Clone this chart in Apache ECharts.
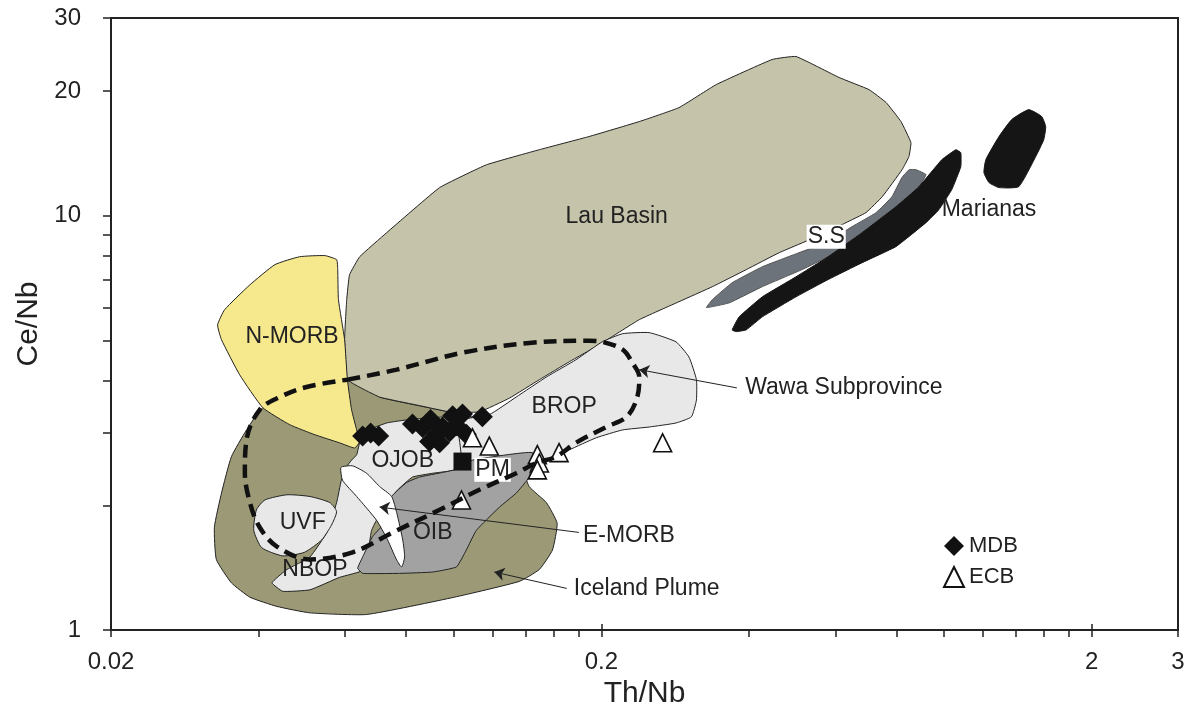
<!DOCTYPE html>
<html>
<head>
<meta charset="utf-8">
<script src="https://cdn.jsdelivr.net/npm/echarts@6/dist/echarts.min.js"></script>
<style>
  html, body { margin: 0; padding: 0; background: #fff; }
  #chart { width: 1197px; height: 719px; }
</style>
</head>
<body>
<div id="chart"></div>
<script>
// axis ticks / labels
const xTickLabels = [0.02, 0.2, 2, 3];
const xTicks = [0.02, 0.04, 0.06, 0.08, 0.1, 0.12, 0.14, 0.16, 0.18, 0.2, 0.4, 0.6, 0.8, 1, 1.2, 1.4, 1.6, 1.8, 2, 3];
const xMajorTicks = [0.02, 0.2, 2];
const yTickLabels = [1, 10, 20, 30];
const yTicks = [1, 2, 3, 4, 5, 6, 7, 8, 9, 10, 20, 30];

// fields, [Th/Nb, Ce/Nb]
const icelandPlume = [[0.0408, 3.44], [0.0378, 3.04], [0.0352, 2.62], [0.0336, 2.14], [0.0325, 1.77], [0.0328, 1.48], [0.0352, 1.30], [0.0384, 1.20], [0.0436, 1.14], [0.0509, 1.10], [0.0664, 1.09], [0.1003, 1.20], [0.136, 1.31], [0.1495, 1.40], [0.159, 1.56], [0.1625, 1.81], [0.1545, 2.03], [0.1425, 2.22], [0.136, 2.57], [0.1128, 3.22], [0.0981, 3.36], [0.0706, 3.65], [0.0607, 4.02], [0.0533, 3.80]];
const lauBasin = [[0.0607, 4.02], [0.0599, 5.02], [0.0605, 6.27], [0.0613, 7.20], [0.0643, 7.96], [0.073, 9.10], [0.0936, 11.69], [0.1166, 13.27], [0.1495, 14.43], [0.1886, 15.52], [0.239, 16.87], [0.288, 18.23], [0.343, 20.72], [0.446, 23.82], [0.499, 24.22], [0.611, 21.55], [0.703, 20.15], [0.762, 18.75], [0.817, 16.87], [0.856, 15.01], [0.848, 13.89], [0.821, 12.91], [0.748, 11.11], [0.693, 10.17], [0.631, 9.62], [0.575, 9.10], [0.461, 8.14], [0.395, 7.41], [0.337, 6.74], [0.288, 6.20], [0.239, 5.61], [0.198, 4.88], [0.172, 4.44], [0.1495, 4.02], [0.130, 3.63], [0.1128, 3.36], [0.0981, 3.36], [0.0852, 3.48], [0.0706, 3.65]];
const nMorb = [[0.0485, 7.96], [0.0546, 8.01], [0.0577, 7.83], [0.058, 7.41], [0.0582, 6.27], [0.0599, 5.02], [0.0607, 4.02], [0.0619, 3.40], [0.0634, 3.04], [0.0643, 2.85], [0.0628, 2.75], [0.0585, 2.83], [0.0521, 2.96], [0.0463, 3.13], [0.0408, 3.44], [0.0366, 4.13], [0.0336, 5.02], [0.033, 5.45], [0.0341, 5.93], [0.0384, 6.81], [0.0432, 7.62]];
const brop = [[0.1182, 3.31], [0.1341, 3.65], [0.1545, 4.08], [0.1775, 4.49], [0.2008, 4.96], [0.2211, 5.19], [0.2505, 5.22], [0.284, 4.96], [0.3018, 4.56], [0.3126, 4.02], [0.3126, 3.59], [0.3053, 3.27], [0.284, 3.16], [0.2505, 3.09], [0.2211, 3.04], [0.1952, 2.91], [0.1719, 2.72], [0.1545, 2.57], [0.1447, 2.57], [0.124, 2.435], [0.1076, 2.37], [0.1003, 2.435], [0.0981, 2.88], [0.1051, 3.22]];
const ojobNbop = [[0.0634, 2.65], [0.0652, 2.99], [0.073, 3.16], [0.0813, 3.22], [0.1003, 3.25], [0.1037, 2.46], [0.0906, 2.39], [0.0824, 2.34], [0.0769, 2.18], [0.0723, 2.00], [0.068, 1.74], [0.0658, 1.40], [0.0585, 1.34], [0.0509, 1.25], [0.0448, 1.24], [0.0426, 1.30], [0.0457, 1.40], [0.0509, 1.50], [0.0551, 1.72], [0.0577, 2.03], [0.059, 2.30], [0.0605, 2.48], [0.0619, 2.57]];
const uvf = [[0.0396, 1.95], [0.0412, 2.06], [0.0457, 2.12], [0.0509, 2.10], [0.0559, 2.03], [0.0577, 1.93], [0.0563, 1.79], [0.0538, 1.65], [0.0496, 1.54], [0.0448, 1.51], [0.0406, 1.58], [0.0391, 1.74]];
const oib = [[0.0747, 2.10], [0.0802, 2.27], [0.0852, 2.34], [0.1003, 2.435], [0.1092, 2.57], [0.1447, 2.68], [0.1425, 2.34], [0.1341, 2.14], [0.124, 1.98], [0.1112, 1.74], [0.1061, 1.56], [0.1013, 1.42], [0.0906, 1.38], [0.0776, 1.37], [0.0652, 1.37], [0.0637, 1.41], [0.0652, 1.50], [0.0683, 1.68], [0.073, 1.84]];
const eMorb = [[0.0593, 2.48], [0.0622, 2.49], [0.0664, 2.39], [0.0706, 2.22], [0.0747, 2.10], [0.0765, 1.92], [0.0787, 1.65], [0.0794, 1.50], [0.0783, 1.42], [0.0765, 1.476], [0.0733, 1.65], [0.0696, 1.84], [0.0634, 2.10], [0.0593, 2.30], [0.0588, 2.46]];
const ss = [[0.3276, 6.00], [0.3368, 6.27], [0.3697, 6.89], [0.426, 7.53], [0.506, 8.14], [0.5746, 8.61], [0.6493, 9.41], [0.7267, 10.17], [0.7829, 11.11], [0.8205, 12.36], [0.8483, 12.91], [0.8766, 12.91], [0.9187, 12.56], [0.8684, 11.24], [0.737, 9.25], [0.5913, 8.05], [0.5132, 7.41], [0.426, 6.74], [0.3647, 6.16]];
const marianasBand = [[0.3697, 5.30], [0.382, 5.70], [0.426, 6.37], [0.4989, 7.12], [0.58, 7.96], [0.6805, 9.10], [0.7977, 10.51], [0.889, 11.75], [0.99, 13.66], [1.057, 14.43], [1.082, 14.19], [1.082, 13.13], [1.037, 11.56], [0.976, 10.34], [0.9187, 9.62], [0.7977, 8.42], [0.6805, 7.70], [0.58, 7.01], [0.4989, 6.37], [0.426, 5.70], [0.3948, 5.30], [0.3767, 5.25]];
const marianasBlob = [[1.488, 18.03], [1.582, 17.35], [1.612, 16.40], [1.597, 15.26], [1.538, 13.89], [1.42, 11.75], [1.294, 11.69], [1.235, 12.02], [1.206, 12.70], [1.217, 13.66], [1.294, 15.52], [1.374, 17.06]];
const wawa = [[0.0607, 4.02], [0.0765, 4.25], [0.1042, 4.67], [0.1425, 4.93], [0.1886, 4.99], [0.2008, 4.96], [0.2211, 4.75], [0.2313, 4.42], [0.239, 4.08], [0.2368, 3.65], [0.2253, 3.27], [0.2046, 3.09], [0.1775, 2.83], [0.1617, 2.62], [0.1474, 2.53], [0.1341, 2.39], [0.1128, 2.18], [0.0936, 1.95], [0.0751, 1.72], [0.0622, 1.54], [0.0509, 1.48], [0.0436, 1.59], [0.0402, 1.77], [0.0384, 2.03], [0.0375, 2.40], [0.0378, 2.88], [0.0402, 3.40], [0.0442, 3.65], [0.0501, 3.86], [0.0607, 4.02]];

// samples
const mdb = [[0.0652, 2.94], [0.0677, 2.99], [0.0703, 2.94], [0.0824, 3.14], [0.0864, 3.08], [0.0897, 3.22], [0.0923, 2.97], [0.0893, 2.85], [0.0936, 2.83], [0.0949, 3.09], [0.0981, 3.01], [0.0995, 3.29], [0.1013, 3.11], [0.1042, 3.32], [0.1061, 2.97], [0.1144, 3.27]];
const ecb = [[0.1092, 2.91], [0.1182, 2.78], [0.1481, 2.65], [0.1495, 2.53], [0.1481, 2.435], [0.164, 2.68], [0.2667, 2.83], [0.1037, 2.06]];
const pm = [[0.1042, 2.55]];

// field names and where they sit
const regionNames = ['Lau Basin', 'S.S', 'Marianas', 'N-MORB', 'BROP', 'OJOB', 'PM', 'UVF', 'OIB', 'NBOP', 'Wawa Subprovince', 'E-MORB', 'Iceland Plume'];
const regionLabelPos = [[0.215, 9.94], [0.575, 8.90], [1.235, 10.34], [0.0468, 5.10], [0.168, 3.46], [0.0787, 2.57], [0.12, 2.435], [0.0492, 1.82], [0.0906, 1.72], [0.0521, 1.40], [0.393, 3.84], [0.1834, 1.69], [0.1758, 1.26]];
const arrowFrom = [[0.378, 3.84], [0.18, 1.72], [0.170, 1.26]];
const arrowTo = [[0.239, 4.25], [0.0706, 1.98], [0.121, 1.38]];

const FONT = '"Liberation Sans", Arial, Helvetica, sans-serif';
const boxed = ['S.S', 'PM'];
const leftAligned = ['Wawa Subprovince', 'E-MORB', 'Iceland Plume'];

const chart = echarts.init(document.getElementById('chart'));

function area(name, pts, fill, stroke, smooth) {
  return {
    type: 'custom',
    name: name,
    silent: true,
    data: pts,
    encode: { x: 0, y: 1 },
    renderItem: function (params, api) {
      if (params.dataIndex !== 0) return null;
      return {
        type: 'polygon',
        shape: { points: pts.map(p => api.coord(p)), smooth: smooth },
        style: { fill: fill, stroke: stroke, lineWidth: 1 }
      };
    }
  };
}

chart.setOption({
  animation: false,
  textStyle: { fontFamily: FONT },
  grid: {
    left: 111, right: 19, top: 18, bottom: 89,
    show: true, borderColor: '#222', borderWidth: 2,
    outerBoundsMode: 'none'
  },
  legend: {
    data: ['MDB', 'ECB'],
    orient: 'vertical',
    left: 938, top: 530,
    itemWidth: 20, itemHeight: 20, itemGap: 9,
    textStyle: { fontSize: 22, color: '#222', fontFamily: FONT },
    selectedMode: false
  },
  xAxis: [
    {
      type: 'log', logBase: 10, min: 0.02, max: 3,
      name: 'Th/Nb', nameLocation: 'middle', nameGap: 46,
      nameTextStyle: { fontSize: 30, color: '#222', fontFamily: FONT },
      axisLine: { lineStyle: { color: '#222', width: 2 } },
      axisTick: { customValues: xTicks, length: 7, lineStyle: { color: '#222', width: 1.5 } },
      axisLabel: {
        customValues: xTickLabels, margin: 20, fontSize: 24, color: '#222',
        formatter: v => String(+v.toPrecision(3))
      },
      splitLine: { show: false },
      minorTick: { show: false }
    },
    {
      // inner half of the major ticks, which cross the axis
      type: 'log', logBase: 10, min: 0.02, max: 3, position: 'bottom', offset: 0,
      axisLine: { show: false },
      axisTick: { customValues: xMajorTicks, inside: true, length: 6, lineStyle: { color: '#222', width: 1.5 } },
      axisLabel: { show: false },
      splitLine: { show: false }
    }
  ],
  yAxis: {
    type: 'log', logBase: 10, min: 1, max: 30,
    name: 'Ce/Nb', nameLocation: 'middle', nameGap: 54,
    nameTextStyle: { fontSize: 30, color: '#222', fontFamily: FONT },
    axisLine: { lineStyle: { color: '#222', width: 2 } },
    axisTick: { customValues: yTicks, length: 8, lineStyle: { color: '#222', width: 1.5 } },
    axisLabel: {
      customValues: yTickLabels, margin: 30, fontSize: 24, color: '#222',
      formatter: v => String(+v.toPrecision(3))
    },
    splitLine: { show: false },
    minorTick: { show: false }
  },
  series: [
    area('Iceland Plume', icelandPlume, '#9c9a76', '#222', 0.15),
    area('Lau Basin', lauBasin, '#c5c4aa', '#222', 0.1),
    area('N-MORB', nMorb, '#f5e88d', '#222', 0.15),
    area('BROP', brop, '#e8e8e8', '#222', 0.15),
    area('OJOB', ojobNbop, '#e8e8e8', '#222', 0.12),
    area('UVF', uvf, '#e8e8e8', '#222', 0.2),
    area('OIB', oib, '#a2a2a2', '#222', 0.12),
    area('E-MORB', eMorb, '#ffffff', '#222', 0.2),
    area('S.S', ss, '#6d737b', '#555', 0.1),
    area('Marianas', marianasBand, '#151515', '#151515', 0.1),
    area('Marianas 2', marianasBlob, '#151515', '#151515', 0.15),
    {
      type: 'line', name: 'Wawa', data: wawa, smooth: 0.35, symbol: 'none', silent: true,
      lineStyle: { color: '#111', width: 4.5, type: [13, 7] }
    },
    {
      type: 'lines', coordinateSystem: 'cartesian2d', silent: true,
      data: arrowFrom.map((f, i) => ({ coords: [f, arrowTo[i]] })),
      symbol: ['none', 'arrow'], symbolSize: 10,
      lineStyle: { color: '#222', width: 1, opacity: 1 }
    },
    {
      type: 'scatter', name: 'MDB', data: mdb, symbol: 'diamond', symbolSize: 21,
      itemStyle: { color: '#111', opacity: 1 }, silent: true
    },
    {
      type: 'scatter', name: 'ECB', data: ecb, symbol: 'triangle', symbolSize: 18,
      itemStyle: { color: '#fff', borderColor: '#111', borderWidth: 1.6, opacity: 1 }, silent: true
    },
    {
      type: 'scatter', name: 'PM', data: pm, symbol: 'rect', symbolSize: 18,
      itemStyle: { color: '#111', opacity: 1 }, silent: true
    },
    {
      type: 'custom', name: 'labels', silent: true,
      data: regionLabelPos,
      encode: { x: 0, y: 1 },
      renderItem: function (params, api) {
        const name = regionNames[params.dataIndex];
        const pt = api.coord([api.value(0), api.value(1)]);
        const isBoxed = boxed.indexOf(name) >= 0;
        return {
          type: 'text',
          x: pt[0], y: pt[1],
          style: {
            text: name,
            fill: '#222',
            fontSize: 23,
            fontFamily: FONT,
            align: leftAligned.indexOf(name) >= 0 ? 'left' : 'center',
            verticalAlign: 'middle',
            backgroundColor: isBoxed ? '#fff' : null,
            padding: isBoxed ? [1, 1, 0, 1] : 0
          }
        };
      }
    }
  ]
});
</script>
</body>
</html>
